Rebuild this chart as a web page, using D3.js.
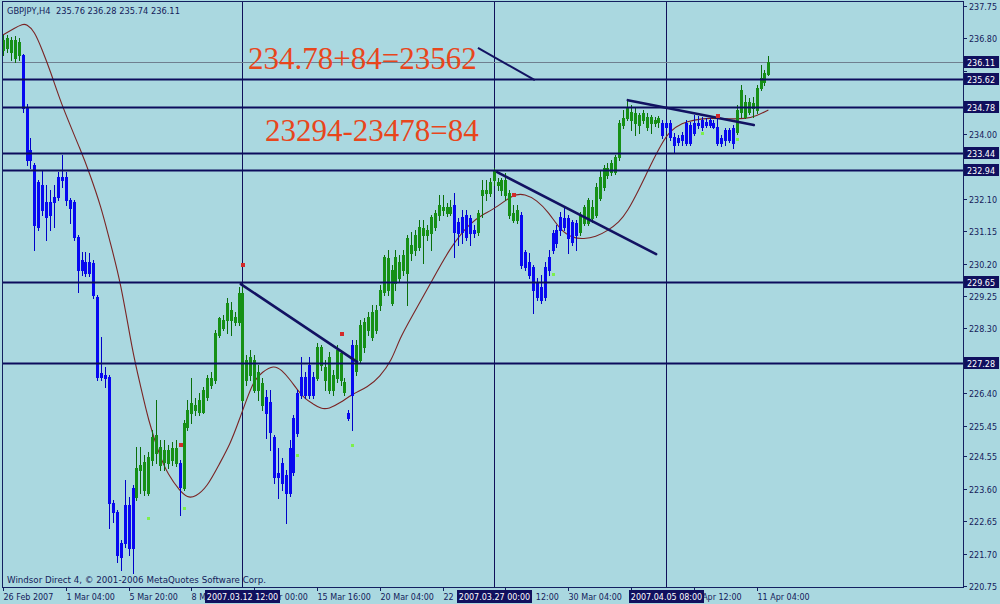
<!DOCTYPE html>
<html><head><meta charset="utf-8">
<script src="https://cdn.jsdelivr.net/npm/d3@7"></script>
<style>html,body{margin:0;padding:0;background:#aad8e0;}svg{display:block}</style>
</head><body><svg id="c" width="1000" height="604"></svg>
<script>
// ---- DATA (GBPJPY H4, bars indexed from 26 Feb 2007 12:00) ----
const opens = [236.46,236.52,236.40,236.23,236.31,236.31,234.79,233.53,233.09,232.59,
232.50,232.01,232.01,232.15,232.74,232.74,232.74,232.06,232.01,230.98,
230.30,230.25,230.25,230.22,229.22,226.99,226.93,226.88,223.18,222.92,
222.01,223.13,223.13,223.62,223.36,224.15,223.57,223.48,224.44,224.65,
224.30,224.38,224.36,224.44,224.36,224.36,223.62,225.41,225.82,225.91,
225.85,225.85,226.29,226.64,226.79,228.11,228.31,228.55,228.55,228.49,
228.49,226.20,226.79,226.93,226.50,226.50,226.06,226.29,226.14,225.12,
224.06,224.36,224.00,224.79,225.67,226.41,226.88,226.88,227.23,226.88,
226.85,227.23,226.79,226.50,226.50,226.85,226.79,226.44,225.82,227.81,
227.05,227.38,227.76,228.25,228.05,228.25,228.99,229.37,229.43,229.05,
229.63,229.78,230.01,229.92,230.51,230.60,230.69,231.04,231.04,231.10,
231.27,231.62,231.77,231.68,231.68,231.92,231.42,231.57,231.62,231.54,
231.18,231.13,232.21,232.27,232.27,232.65,232.50,232.36,232.21,231.62,
231.48,231.48,231.62,230.54,230.25,230.10,229.66,229.51,230.10,230.39,
231.10,231.18,231.57,231.54,231.54,231.42,231.39,231.13,231.39,231.39,
231.54,231.62,232.12,232.45,232.80,232.88,232.88,233.33,234.26,234.47,
234.41,234.32,234.26,234.41,234.20,234.32,234.32,234.35,234.32,234.32,
234.32,233.91,233.88,233.97,234.32,234.26,234.32,234.32,234.41,234.35,
234.41,234.32,234.20,233.88,234.11,234.11,234.17,234.06,234.64,234.50,
234.64,234.76,234.70,235.35,235.52,235.76];
const highs = [236.90,236.90,236.84,236.87,236.81,236.34,234.88,233.88,233.15,232.65,
232.94,232.50,232.36,232.50,232.88,233.38,232.88,232.12,232.06,231.04,
230.54,230.54,230.51,230.30,229.28,228.05,227.17,226.93,223.27,222.98,
222.10,223.86,223.36,223.71,224.82,224.82,224.59,224.68,225.32,226.20,
225.03,225.03,224.88,224.97,225.03,224.44,225.62,226.20,226.85,226.26,
226.41,226.58,226.93,227.02,228.25,228.64,228.69,229.19,229.08,228.78,
229.51,229.60,227.52,227.67,227.52,227.23,226.85,226.50,226.50,225.18,
224.79,224.50,224.15,225.03,225.76,226.50,227.46,227.02,227.46,227.02,
227.87,227.81,227.38,227.61,227.08,227.81,227.67,226.85,225.91,227.96,
227.96,228.55,228.61,228.78,228.99,228.99,229.57,230.45,230.60,230.16,
230.60,230.45,230.60,231.04,231.13,231.18,231.48,231.48,231.33,231.62,
231.77,232.21,232.21,231.98,232.06,232.27,231.54,231.77,231.77,231.62,
231.33,231.77,232.65,232.65,232.71,233.00,232.71,232.71,232.86,232.36,
231.92,231.92,231.71,230.60,230.51,230.16,229.78,229.87,230.25,230.60,
231.18,231.33,231.71,231.86,231.62,231.48,231.48,231.71,231.92,232.12,
232.06,232.56,232.94,233.09,233.15,233.24,233.38,234.41,234.70,234.99,
234.85,234.76,234.61,234.70,234.61,234.56,234.50,234.53,234.41,234.41,
234.41,234.03,233.97,234.06,234.41,234.35,234.56,234.53,234.50,234.47,
234.47,234.41,234.47,233.97,234.17,234.17,234.26,234.85,235.43,235.14,
235.05,235.08,235.43,236.02,235.87,236.28];
const lows = [236.31,236.40,236.17,236.11,236.17,234.64,233.09,233.00,230.60,231.18,
231.62,230.89,231.18,231.27,232.06,232.45,231.92,231.39,230.89,229.37,
229.87,229.84,229.84,229.19,226.79,226.79,226.58,222.45,222.63,221.45,
221.22,221.89,221.66,221.13,223.27,223.48,223.42,223.42,224.30,224.36,
224.15,224.15,224.21,224.30,224.27,222.83,223.57,225.32,225.53,225.76,
225.76,225.82,226.20,226.55,226.70,228.05,228.25,228.17,228.11,228.40,
228.40,226.14,226.64,226.79,226.44,226.20,225.91,225.09,224.74,223.77,
223.33,223.57,222.60,223.39,224.00,225.15,226.26,226.26,226.26,226.26,
226.79,227.08,226.50,226.41,226.35,226.73,226.64,226.35,225.62,225.32,
226.93,227.32,227.61,228.11,227.96,228.17,228.84,229.28,229.28,228.99,
229.43,229.66,229.87,228.99,230.30,230.45,230.60,230.22,230.89,230.60,
231.18,231.48,231.62,231.59,231.62,230.39,230.75,230.80,230.89,230.75,
230.98,231.04,231.57,232.06,232.18,232.50,232.36,232.21,232.06,231.54,
231.42,231.39,230.07,230.01,229.78,228.75,229.13,229.05,229.13,229.87,
230.51,230.69,231.04,231.18,230.51,230.75,230.60,231.04,231.33,231.33,
231.42,231.57,232.06,232.36,232.71,232.80,232.83,233.24,234.17,234.41,
234.11,233.97,234.03,234.32,234.11,234.03,234.23,234.20,233.88,234.11,
233.82,233.47,233.68,233.68,233.68,233.68,233.97,234.17,234.11,234.20,
234.20,234.17,233.68,233.65,233.68,233.76,233.59,234.00,234.50,234.47,
234.58,234.50,234.61,235.29,235.43,235.74];
const closes = [236.75,236.81,236.75,236.75,236.69,234.76,233.24,233.24,231.33,231.27,
231.77,231.57,231.62,232.01,232.15,232.65,232.06,231.83,230.98,230.01,
230.01,229.92,229.92,229.28,226.88,226.88,226.85,223.18,222.92,221.66,
221.60,222.01,221.86,221.86,224.21,224.30,224.38,224.53,225.12,225.18,
224.82,224.74,224.74,224.79,224.79,223.65,225.53,225.91,226.12,226.06,
226.20,226.50,226.85,226.85,228.17,228.61,228.55,229.05,228.84,228.64,
229.34,229.34,227.38,227.46,227.38,227.02,226.70,225.82,225.27,223.95,
223.95,223.77,223.48,223.48,224.09,225.24,226.35,226.35,226.35,226.35,
227.76,227.76,227.17,227.46,226.93,227.67,227.58,226.73,225.67,226.35,
227.81,228.40,228.49,228.64,228.78,228.84,229.43,230.39,230.36,230.01,
230.39,230.25,230.45,230.95,230.75,231.04,231.27,231.24,231.18,231.57,
231.68,231.92,231.86,231.86,231.86,231.13,231.10,231.13,230.98,231.10,
231.10,231.68,232.36,232.36,232.59,232.94,232.59,232.65,232.65,232.27,
231.68,231.77,230.16,230.10,229.87,229.43,229.22,229.13,229.22,230.01,
230.60,230.80,231.18,231.27,230.95,230.83,231.04,231.62,231.86,232.06,
231.86,232.45,232.74,233.00,233.00,233.15,233.33,234.32,234.47,234.79,
234.64,234.61,234.56,234.61,234.50,234.50,234.41,234.47,233.97,234.20,
233.91,233.68,233.76,233.82,233.74,233.74,234.03,234.26,234.20,234.26,
234.26,234.20,233.74,233.74,233.82,233.82,233.74,234.70,235.29,234.93,
234.93,234.91,235.35,235.64,235.79,236.11];

// smoothed moving average (bar index, price)
const maIdx = [0,3,5,6,8,10,12,15,20,22,25,27,30,33,35,37,40,42,45,47,49,52,55,58,60,62,64,66,69,71,73,75,77,79,81,83,86,89,93,96,99,101,104,109,114,119,122,126,130,133,136,139,142,145,148,151,154,157,159,162,165,168,170,173,176,180,185,189,192,195];
const maVal = [236.90,237.11,237.22,237.22,237.02,236.46,235.87,234.82,233.47,232.86,231.86,230.95,229.66,227.61,226.64,225.62,224.53,224.03,223.54,223.33,223.36,223.65,224.30,224.94,225.56,226.20,226.79,227.02,227.23,227.08,226.82,226.50,226.23,226.09,225.94,225.94,226.12,226.38,226.58,226.88,227.35,227.99,228.61,229.63,230.69,231.39,231.62,231.86,232.24,232.24,232.06,231.71,231.18,230.95,230.92,230.98,231.16,231.42,231.71,232.36,233.09,233.76,234.09,234.32,234.41,234.47,234.44,234.44,234.53,234.70];

// indicator markers
const redIdx = [45,61,86,130,182];
const redVal = [224.91,230.19,228.17,232.24,234.56];
const limeIdx = [37,46,75,89,140,178,187];
const limeVal = [222.74,223.04,224.59,224.88,229.90,234.03,233.85];

// horizontal levels and current bid
const levels = [235.62,234.78,233.44,232.94,229.65,227.28];
const bid = 236.11;

// trend lines [startIdx, startPrice, endIdx, endPrice]
const trendA = [60.6,229.60,90.2,227.32];
const trendB = [125.9,232.88,166.4,230.48];
const trendC = [159.2,234.99,191.3,234.26];
const arrowLine = [121,236.52,135.5,235.58];

// vertical lines
const vIdx = [61,125,169];
const vLabels = ["2007.03.12 12:00","2007.03.27 00:00","2007.04.05 08:00"];

// axis ticks
const priceTicks = ["237.75","236.80","235.85","234.95","234.00","233.05","232.10","231.15","230.20","229.25","228.30","227.35","226.40","225.45","224.55","223.60","222.65","221.70","220.75"];
const timeIdx = [0,16,32,48,64,80,96,112,128,144,160,176,192];
const timeLabels = ["26 Feb 2007","1 Mar 04:00","5 Mar 20:00","8 Mar 12:00","13 Mar 00:00","15 Mar 16:00","20 Mar 04:00","22 Mar 20:00","27 Mar 12:00","30 Mar 04:00","3 Apr 20:00","6 Apr 12:00","11 Apr 04:00"];

const headerText = "GBPJPY,H4  235.76 236.28 235.74 236.11";
const footerText = "Windsor Direct 4, \u00A9 2001-2006 MetaQuotes Software Corp.";
const note1 = "234.78+84=23562";
const note2 = "23294-23478=84";

// ---- DRAW ----
const BG="#aad8e0", NAVY="#0c0c5c", TXT="#14205a";
const PL=3, PT=2, PR=963, PB=587;
const svg = d3.select("#c");
const FONT = "DejaVu Sans, Verdana, sans-serif";
const defs = svg.append("defs");

svg.append("rect").attr("width",1000).attr("height",604).attr("fill",BG);
defs.append("clipPath").attr("id","clip")
  .append("rect").attr("x",PL).attr("y",PT).attr("width",PR-PL).attr("height",PB-PT);

const x = d3.scaleLinear().domain([0,195]).range([3, 3+195*3.925]);
const y = d3.scaleLinear().domain([220.75,237.75]).range([586,6]);

const plot = svg.append("g").attr("clip-path","url(#clip)");

// vertical lines
plot.selectAll(".vl").data(vIdx).join("line")
  .attr("x1",d=>Math.round(x(d))+0.5).attr("x2",d=>Math.round(x(d))+0.5)
  .attr("y1",PT).attr("y2",PB).attr("stroke","#10105a").attr("stroke-width",1);

// bid line
plot.append("line").attr("x1",PL).attr("x2",PR)
  .attr("y1",Math.round(y(bid))+0.5).attr("y2",Math.round(y(bid))+0.5)
  .attr("stroke","#6f8090").attr("stroke-width",1);

// moving average
const maPts = maIdx.map((k,i)=>[x(k), y(maVal[i])]);
plot.append("path").attr("d", d3.line().curve(d3.curveBasis)(maPts))
  .attr("fill","none").attr("stroke","#7a2424").attr("stroke-width",1.1);

// candles
const bars = opens.map((o,i)=>({i,o,h:highs[i],l:lows[i],c:closes[i]}));
const cg = plot.append("g");
bars.forEach(b=>{
  const cx = Math.round(x(b.i));
  const up = b.c >= b.o;
  const wick = up ? "#0a6e0a" : "#0000c8";
  const fill = up ? "#169016" : "#0808f0";
  cg.append("line").attr("x1",cx+0.5).attr("x2",cx+0.5)
    .attr("y1",Math.round(y(b.h))).attr("y2",Math.round(y(b.l))+1)
    .attr("stroke",wick).attr("stroke-width",1);
  const yt = Math.round(y(Math.max(b.o,b.c)));
  const yb = Math.round(y(Math.min(b.o,b.c)));
  cg.append("rect").attr("x",cx-1).attr("y",yt).attr("width",3).attr("height",Math.max(1,yb-yt+1))
    .attr("fill",fill);
});

// horizontal levels
plot.selectAll(".lv").data(levels).join("line")
  .attr("x1",PL).attr("x2",PR)
  .attr("y1",d=>Math.round(y(d))+0.5).attr("y2",d=>Math.round(y(d))+0.5)
  .attr("stroke",NAVY).attr("stroke-width",2);

// trend lines
[trendA,trendB,trendC].forEach(t=>{
  plot.append("line").attr("x1",x(t[0])).attr("y1",y(t[1])).attr("x2",x(t[2])).attr("y2",y(t[3]))
    .attr("stroke","#121262").attr("stroke-width",2.6).attr("stroke-linecap","round");
});
plot.append("line").attr("x1",x(arrowLine[0])).attr("y1",y(arrowLine[1]))
  .attr("x2",x(arrowLine[2])).attr("y2",y(arrowLine[3]))
  .attr("stroke","#121262").attr("stroke-width",2);

// markers
plot.selectAll(".rd").data(redIdx).join("rect")
  .attr("x",(d)=>Math.round(x(d))-1).attr("y",(d,i)=>Math.round(y(redVal[i]))-1)
  .attr("width",4).attr("height",4).attr("fill","#d42a2a");
plot.selectAll(".lm").data(limeIdx).join("rect")
  .attr("x",(d)=>Math.round(x(d))-1).attr("y",(d,i)=>Math.round(y(limeVal[i]))-1)
  .attr("width",3).attr("height",3).attr("fill","#7cf04a");

// annotations
plot.append("text").attr("x",248).attr("y",69).text(note1)
  .attr("font-family","Liberation Serif, Times New Roman, serif").attr("font-size",31).attr("fill","#e8461c");
plot.append("text").attr("x",265).attr("y",141).text(note2)
  .attr("font-family","Liberation Serif, Times New Roman, serif").attr("font-size",31).attr("fill","#e8461c");

// header / footer
svg.append("text").attr("x",7).attr("y",14).attr("xml:space","preserve").style("white-space","pre")
  .text(headerText).attr("font-family",FONT).attr("font-size",8.3).attr("fill",TXT);
svg.append("text").attr("x",7).attr("y",583).text(footerText)
  .attr("font-family",FONT).attr("font-size",8.7).attr("fill",TXT);

// frame
svg.append("rect").attr("x",PL-0.5).attr("y",PT-0.5).attr("width",PR-PL+1).attr("height",PB-PT+1)
  .attr("fill","none").attr("stroke","#142060").attr("stroke-width",1);

// right axis: tick labels that sit under a level box are covered by it (only the tick mark shows)
const boxVals = [bid].concat(levels);
const boxIv = boxVals.map(v=>{const yy=Math.round(y(v)); return [yy-6, yy+6];});
const ra = svg.append("g");
priceTicks.forEach(t=>{
  const yy = Math.round(y(+t))+0.5;
  ra.append("line").attr("x1",PR).attr("x2",PR+4).attr("y1",yy).attr("y2",yy).attr("stroke","#142060");
  const top = yy-4, bot = yy+3;
  if (boxIv.some(iv=>iv[0]<bot && iv[1]>top)) return;
  ra.append("text").attr("x",PR+6).attr("y",yy+3).text(t)
    .attr("font-family",FONT).attr("font-size",8).attr("fill",TXT);
});
boxVals.forEach(v=>{
  const yy = Math.round(y(v));
  ra.append("rect").attr("x",PR+1).attr("y",yy-6).attr("width",35).attr("height",12).attr("fill","#10105e");
  ra.append("text").attr("x",PR+4).attr("y",yy+3.5).text(v.toFixed(2))
    .attr("font-family",FONT).attr("font-size",8).attr("fill","#ffffff");
});

// bottom axis: labels covered by the vertical-line date boxes only show their uncovered characters
const ba = svg.append("g");
const dateBoxes = vIdx.map(k=>{const xx=Math.round(x(k)); return [xx-37, xx+38];});
timeIdx.forEach((k,i)=>{
  const xx = Math.round(x(k))+0.5;
  ba.append("line").attr("x1",xx).attr("x2",xx).attr("y1",PB).attr("y2",PB+4).attr("stroke","#142060");
  const t = ba.append("text").attr("x",xx).attr("y",600).attr("xml:space","preserve").style("white-space","pre")
    .text(timeLabels[i]).attr("font-family",FONT).attr("font-size",8).attr("fill",TXT);
  const node = t.node();
  const n = node.getNumberOfChars();
  const s0 = node.getStartPositionOfChar(0).x, e1 = node.getEndPositionOfChar(n-1).x;
  if (!dateBoxes.some(b=>b[0]<e1 && b[1]>s0)) return;
  const groups = []; let g = null;
  for (let c=0;c<n;c++){
    const cs = node.getStartPositionOfChar(c).x, ce = node.getEndPositionOfChar(c).x;
    const mid = (cs+ce)/2;
    const vis = !dateBoxes.some(b=>mid>b[0] && mid<b[1]);
    if (vis){ if(!g){g={x:cs,s:""};groups.push(g);} g.s += timeLabels[i][c]; }
    else g = null;
  }
  t.remove();
  groups.forEach(gr=>{
    const lead = gr.s.length - gr.s.replace(/^\s+/,"").length;
    const txt = gr.s.trim(); if(!txt) return;
    ba.append("text").attr("y",600).attr("x", gr.x + (lead? lead*2.54 : 0)).text(txt)
      .attr("font-family",FONT).attr("font-size",8).attr("fill",TXT);
  });
});
vIdx.forEach((k,i)=>{
  const xx = Math.round(x(k));
  ba.append("rect").attr("x",xx-37).attr("y",590).attr("width",75).attr("height",13).attr("fill","#10105e");
  ba.append("text").attr("x",xx+0.5).attr("y",600).attr("text-anchor","middle").text(vLabels[i])
    .attr("font-family",FONT).attr("font-size",8).attr("fill","#ffffff");
});
</script></body></html>
